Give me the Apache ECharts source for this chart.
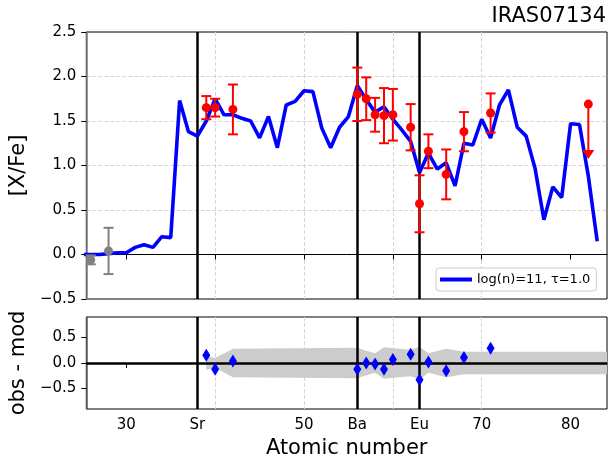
<!DOCTYPE html>
<html>
<head>
<meta charset="utf-8">
<script src="https://cdn.jsdelivr.net/npm/echarts@6/dist/echarts.min.js"></script>
<style>
  html, body { margin: 0; padding: 0; background: #fff; }
  #chart { width: 612px; height: 466px; }
</style>
</head>
<body>
<div id="chart"></div>
<script>
// model abundances, log(n)=11, tau=1.0
const modelZ = [25, 26, 27, 28, 29, 30, 31, 32, 33, 34, 35, 36, 37, 38, 39, 40, 41, 42, 43, 44,
  45, 46, 47, 48, 49, 50, 51, 52, 53, 54, 55, 56, 57, 58, 59, 60, 61, 62, 63, 64,
  65, 66, 67, 68, 69, 70, 71, 72, 73, 74, 75, 76, 77, 78, 79, 80, 81, 82, 83];
const modelXFe = [0.0, 0.0, 0.0, 0.01, 0.02, 0.02, 0.08, 0.11, 0.08, 0.20, 0.19, 1.73, 1.38, 1.33, 1.50, 1.75, 1.57, 1.57, 1.53, 1.50,
  1.31, 1.55, 1.20, 1.68, 1.72, 1.84, 1.83, 1.42, 1.20, 1.43, 1.55, 1.90, 1.74, 1.60, 1.66, 1.52, 1.40, 1.27, 0.92, 1.14,
  0.96, 1.03, 0.77, 1.25, 1.23, 1.52, 1.31, 1.68, 1.85, 1.43, 1.33, 0.97, 0.39, 0.76, 0.64, 1.47, 1.46, 0.88, 0.15];

// observed s-process elements (red)
const obsZ = [39, 40, 42, 56, 57, 58, 59, 60, 62, 63, 64, 66, 68, 71];
const obsXFe = [1.65, 1.65, 1.63, 1.80, 1.75, 1.57, 1.56, 1.57, 1.43, 0.57, 1.16, 0.90, 1.38, 1.59];
const obsErr = [0.13, 0.10, 0.28, 0.30, 0.24, 0.19, 0.31, 0.29, 0.26, 0.32, 0.19, 0.28, 0.22, 0.22];

// Fe-peak (grey)
const ironZ = [26, 28];
const ironXFe = [-0.06, 0.04];
const ironErr = [0.05, 0.26];

// Pb upper limit
const limZ = [82];
const limXFe = [1.69];
const limArrow = [0.56];

// residuals
const resZ = [39, 40, 42, 56, 57, 58, 59, 60, 62, 63, 64, 66, 68, 71];
const resVal = [0.15, -0.12, 0.04, -0.12, 0.0, -0.02, -0.12, 0.07, 0.17, -0.33, 0.02, -0.15, 0.11, 0.29];

const xMin = 25.5, xMax = 84.1;
const bandZ = [39, 40, 42, 56, 57, 58, 59, 60, 62, 63, 64, 66, 68, 71, xMax];
const bandErr = [0.13, 0.10, 0.28, 0.30, 0.24, 0.19, 0.31, 0.29, 0.26, 0.32, 0.19, 0.28, 0.22, 0.22, 0.22];

const markZ = [38, 56, 63];
const tickZ = [30, 38, 40, 50, 56, 60, 63, 70, 80];
const labelZ = [30, 38, 50, 56, 63, 70, 80];
const labelText = ['30', 'Sr', '50', 'Ba', 'Eu', '70', '80'];
const resTicks = [-0.5, 0, 0.5];

const chart = echarts.init(document.getElementById('chart'));
const capW = 5;

function errorBars(color) {
  return function (params, api) {
    const z = api.value(0);
    const hi = api.coord([z, api.value(2)]);
    const lo = api.coord([z, api.value(1)]);
    const style = { stroke: color, lineWidth: 2 };
    return {
      type: 'group',
      children: [
        { type: 'line', shape: { x1: hi[0], y1: hi[1], x2: lo[0], y2: lo[1] }, style },
        { type: 'line', shape: { x1: hi[0] - capW, y1: hi[1], x2: hi[0] + capW, y2: hi[1] }, style },
        { type: 'line', shape: { x1: lo[0] - capW, y1: lo[1], x2: lo[0] + capW, y2: lo[1] }, style }
      ]
    };
  };
}

function minus(v) {
  return v.toFixed(1).replace('-', '\u2212');
}

const gridLine = { show: true, showMinLine: false, showMaxLine: false, lineStyle: { color: '#d6d6d6', type: [4, 2], width: 1 } };
const tickStyle = { show: true, length: 5, lineStyle: { color: '#000', width: 1 } };
const refLine = { color: '#000', width: 2.5, type: 'solid' };

const option = {
  animation: false,
  textStyle: { fontFamily: 'DejaVu Sans' },
  graphic: [{
    type: 'text', right: 6, top: 6,
    style: { text: 'IRAS07134', font: '21px "DejaVu Sans"', fill: '#000' }
  }],
  legend: {
    left: 436, top: 268,
    data: ['log(n)=11, \u03c4=1.0'],
    icon: 'rect', itemWidth: 32, itemHeight: 4,
    padding: [5, 6, 5, 4],
    borderColor: '#cccccc', borderWidth: 1, borderRadius: 3,
    backgroundColor: 'rgba(255,255,255,0.8)',
    textStyle: { fontSize: 13, color: '#000' }
  },
  grid: [
    { left: 86, right: 5, top: 32, height: 267, show: true, borderColor: '#000', borderWidth: 1 },
    { left: 86, right: 5, top: 317, height: 92, show: true, borderColor: '#000', borderWidth: 1 }
  ],
  xAxis: [
    {
      gridIndex: 0, type: 'value', min: xMin, max: xMax,
      axisLine: { show: true, lineStyle: { color: '#000', width: 1 } },
      axisTick: Object.assign({ customValues: tickZ }, tickStyle),
      axisLabel: { show: false },
      splitLine: gridLine
    },
    {
      gridIndex: 1, type: 'value', min: xMin, max: xMax,
      axisLine: { show: true, lineStyle: { color: '#000', width: 1 } },
      axisTick: Object.assign({ customValues: tickZ }, tickStyle),
      axisLabel: {
        customValues: labelZ, fontSize: 15, color: '#000', margin: 9,
        formatter: v => labelText[labelZ.indexOf(v)]
      },
      splitLine: gridLine,
      name: 'Atomic number', nameLocation: 'middle', nameGap: 29,
      nameTextStyle: { fontSize: 21, color: '#000' }
    }
  ],
  yAxis: [
    {
      gridIndex: 0, type: 'value', min: -0.5, max: 2.5, interval: 0.5,
      axisLine: { show: true, lineStyle: { color: '#808080', width: 1.6 } },
      axisTick: tickStyle,
      axisLabel: { fontSize: 15, color: '#000', margin: 10, formatter: minus },
      splitLine: gridLine,
      name: '[X/Fe]', nameLocation: 'middle', nameGap: 51,
      nameTextStyle: { fontSize: 21, color: '#000' }
    },
    {
      gridIndex: 1, type: 'value', min: -0.9, max: 0.9, splitNumber: 3,
      axisLine: { show: true, lineStyle: { color: '#606060', width: 1.6 } },
      axisTick: Object.assign({ customValues: resTicks }, tickStyle),
      axisLabel: { customValues: resTicks, fontSize: 15, color: '#000', margin: 10, formatter: minus },
      splitLine: gridLine,
      name: 'obs - mod', nameLocation: 'middle', nameGap: 53,
      nameTextStyle: { fontSize: 21, color: '#000' }
    }
  ],
  series: [
    {
      name: 'log(n)=11, \u03c4=1.0', type: 'line', xAxisIndex: 0, yAxisIndex: 0,
      data: modelZ.map((z, i) => [z, modelXFe[i]]),
      showSymbol: false, z: 3,
      itemStyle: { color: '#0000ff' },
      lineStyle: { color: '#0000ff', width: 3.6 },
      markLine: {
        silent: true, symbol: 'none', z: 2,
        label: { show: false },
        lineStyle: refLine,
        data: markZ.map(z => ({ xAxis: z }))
      }
    },
    {
      type: 'custom', xAxisIndex: 0, yAxisIndex: 0, z: 4,
      renderItem: errorBars('#808080'),
      encode: { x: 0, y: [1, 2] },
      data: ironZ.map((z, i) => [z, ironXFe[i] - ironErr[i], ironXFe[i] + ironErr[i]])
    },
    {
      type: 'scatter', xAxisIndex: 0, yAxisIndex: 0, z: 5,
      symbol: 'circle', symbolSize: 9,
      itemStyle: { color: '#808080', opacity: 1 },
      data: ironZ.map((z, i) => [z, ironXFe[i]])
    },
    {
      type: 'custom', xAxisIndex: 0, yAxisIndex: 0, z: 4,
      renderItem: errorBars('#ff0000'),
      encode: { x: 0, y: [1, 2] },
      data: obsZ.map((z, i) => [z, obsXFe[i] - obsErr[i], obsXFe[i] + obsErr[i]])
    },
    {
      type: 'custom', xAxisIndex: 0, yAxisIndex: 0, z: 4,
      renderItem: function (params, api) {
        const z = api.value(0);
        const top = api.coord([z, api.value(2)]);
        const end = api.coord([z, api.value(1)]);
        return {
          type: 'group',
          children: [
            { type: 'line', shape: { x1: top[0], y1: top[1], x2: end[0], y2: end[1] }, style: { stroke: '#ff0000', lineWidth: 2 } },
            { type: 'polygon', shape: { points: [[end[0] - 6, end[1] - 4], [end[0] + 6, end[1] - 4], [end[0], end[1] + 5]] }, style: { fill: '#ff0000' } }
          ]
        };
      },
      encode: { x: 0, y: [1, 2] },
      data: limZ.map((z, i) => [z, limXFe[i] - limArrow[i], limXFe[i]])
    },
    {
      type: 'scatter', xAxisIndex: 0, yAxisIndex: 0, z: 5,
      symbol: 'circle', symbolSize: 9,
      itemStyle: { color: '#ff0000', opacity: 1 },
      data: obsZ.map((z, i) => [z, obsXFe[i]]).concat(limZ.map((z, i) => [z, limXFe[i]]))
    },
    {
      type: 'custom', xAxisIndex: 1, yAxisIndex: 1, z: 1,
      renderItem: function (params, api) {
        if (params.dataIndex !== 0) return;
        const upper = bandZ.map((z, i) => api.coord([z, bandErr[i]]));
        const lower = bandZ.map((z, i) => api.coord([z, -bandErr[i]])).reverse();
        return { type: 'polygon', shape: { points: upper.concat(lower) }, style: { fill: '#cccccc' } };
      },
      encode: { x: 0, y: [1, 2] },
      data: bandZ.map((z, i) => [z, -bandErr[i], bandErr[i]])
    },
    {
      type: 'scatter', xAxisIndex: 1, yAxisIndex: 1, z: 5,
      symbol: 'diamond', symbolSize: [8, 13],
      itemStyle: { color: '#0000ff', opacity: 1 },
      data: resZ.map((z, i) => [z, resVal[i]]),
      markLine: {
        silent: true, symbol: 'none', z: 2,
        label: { show: false },
        lineStyle: refLine,
        data: markZ.map(z => ({ xAxis: z })).concat([{ yAxis: 0 }])
      }
    }
  ]
};

chart.setOption(option);
</script>
</body>
</html>
